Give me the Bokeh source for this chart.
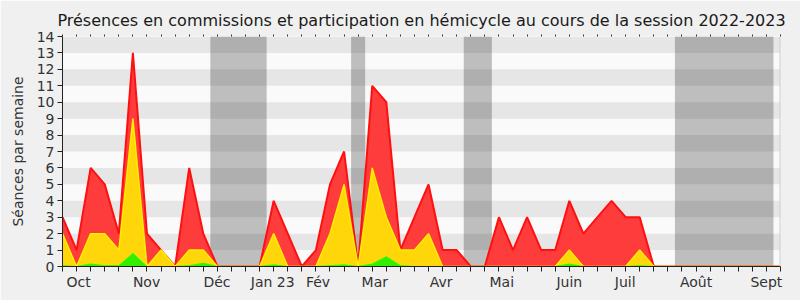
from bokeh.plotting import figure
from bokeh.models import Range1d, FixedTicker, LinearAxis, Span
from bokeh.embed import file_html
from bokeh.resources import INLINE

# ---- data (weekly values, session 2022-2023) ----
weeks = list(range(52))
seances_total = [3, 1, 6, 5, 2, 13, 2, 1, 0, 6,
                 2, 0, 0, 0, 0, 4, 2, 0, 1, 5,
                 7, 0, 11, 10, 1, 3, 5, 1, 1, 0,
                 0, 3, 1, 3, 1, 1, 4, 2, 3, 4,
                 3, 3, 0, 0, 0, 0, 0, 0, 0, 0, 0, 0]
commissions = [2, 0, 2, 2, 1, 9, 0, 1, 0, 1,
               1, 0, 0, 0, 0, 2, 0, 0, 0, 2,
               5, 0, 6, 3, 1, 1, 2, 0, 0, 0,
               0, 0, 0, 0, 0, 0, 1, 0, 0, 0,
               0, 1, 0, 0, 0, 0, 0, 0, 0, 0, 0, 0]
interventions = [0.05, 0, 0.15, 0.05, 0.05, 0.8, 0, 0, 0, 0.05,
                 0.2, 0, 0, 0, 0, 0.1, 0, 0, 0, 0.05,
                 0.1, 0, 0.15, 0.6, 0.05, 0, 0, 0, 0, 0,
                 0, 0, 0, 0, 0, 0, 0.15, 0, 0, 0,
                 0, 0.05, 0, 0, 0, 0, 0, 0, 0, 0, 0, 0]
vacances_debut = [10.5, 20.5, 28.5, 43.5]
vacances_fin = [14.5, 21.5, 30.5, 50.5]
month_pos = [1.14, 5.97, 10.97, 14.93, 18.15, 22.18, 26.9, 31.2, 36.0, 39.97, 45.0, 50.0]
month_labels = ["Oct", "Nov", "Déc", "Jan 23", "Fév", "Mar", "Avr", "Mai", "Juin", "Juil", "Août", "Sept"]
y_ticks = list(range(15))

FONT = "DejaVu Sans"
TXT = "#333333"

p = figure(width=800, height=300, output_backend="svg", toolbar_location=None,
           x_range=Range1d(0, 51), y_range=Range1d(0, 14),
           min_border_left=62, min_border_right=20, min_border_top=36, min_border_bottom=34,
           background_fill_color="#fafafa", border_fill_color="#f0f0f0",
           outline_line_color=None)

p.title.text = "Présences en commissions et participation en hémicycle au cours de la session 2022-2023"
p.title.align = "center"
p.title.text_font = FONT
p.title.text_font_size = "16px"
p.title.text_font_style = "normal"
p.title.text_color = "#1a1a1a"

p.xgrid.grid_line_color = None
p.ygrid.grid_line_color = None

# background stripes (odd units darker)
stripe_bottoms = list(range(1, 14, 2))
p.quad(left=0, right=51, bottom=stripe_bottoms, top=[b + 1 for b in stripe_bottoms],
       fill_color="#e6e6e6", line_color=None)

# holidays
p.quad(left=vacances_debut, right=vacances_fin, bottom=0, top=14,
       fill_color="black", fill_alpha=0.24, line_color=None)

# areas
p.varea(x=weeks, y1=0, y2=seances_total, fill_color="#ff3c3c")
p.line(weeks, seances_total, line_color="#ff1010", line_width=2)
p.varea(x=weeks, y1=0, y2=commissions, fill_color="#ffd60a")
p.line(weeks, commissions, line_color="#ffee00", line_width=1.5)
p.varea(x=weeks, y1=0, y2=interventions, fill_color="#33ee00")
p.line(weeks, interventions, line_color="#22ff00", line_width=1)

p.add_layout(Span(location=51, dimension="height", line_color="#cccccc", line_width=2))

# x axis
xa = p.xaxis[0]
xa.ticker = FixedTicker(ticks=month_pos, minor_ticks=weeks)
xa.major_label_overrides = {pos: lab for pos, lab in zip(month_pos, month_labels)}
xa.major_tick_line_color = None
xa.major_tick_out = 5
xa.major_tick_in = 0
xa.minor_tick_out = 5
xa.minor_tick_in = 0
xa.minor_tick_line_color = "#222222"
xa.axis_line_color = "#222222"
xa.major_label_text_font = FONT
xa.major_label_text_font_size = "14px"
xa.major_label_text_color = TXT
xa.major_label_standoff = 2

# y axis
ya = p.yaxis[0]
ya.ticker = FixedTicker(ticks=y_ticks)
ya.major_tick_out = 5
ya.major_tick_in = 0
ya.minor_tick_line_color = None
ya.axis_line_color = "#222222"
ya.major_tick_line_color = "#222222"
ya.major_label_text_font = FONT
ya.major_label_text_font_size = "14px"
ya.major_label_text_color = TXT
ya.major_label_standoff = 3
ya.axis_label = "Séances par semaine"
ya.axis_label_text_font = FONT
ya.axis_label_text_font_size = "14px"
ya.axis_label_text_font_style = "normal"
ya.axis_label_text_color = TXT
ya.axis_label_standoff = 8

# top ticks
top = LinearAxis(ticker=FixedTicker(ticks=[], minor_ticks=weeks),
                 axis_line_color=None, major_tick_line_color=None,
                 minor_tick_out=2, minor_tick_in=0, minor_tick_line_color="#333333",
                 major_label_text_font_size="0px")
p.add_layout(top, "above")

open("out.html", "w").write(file_html(p, INLINE))
